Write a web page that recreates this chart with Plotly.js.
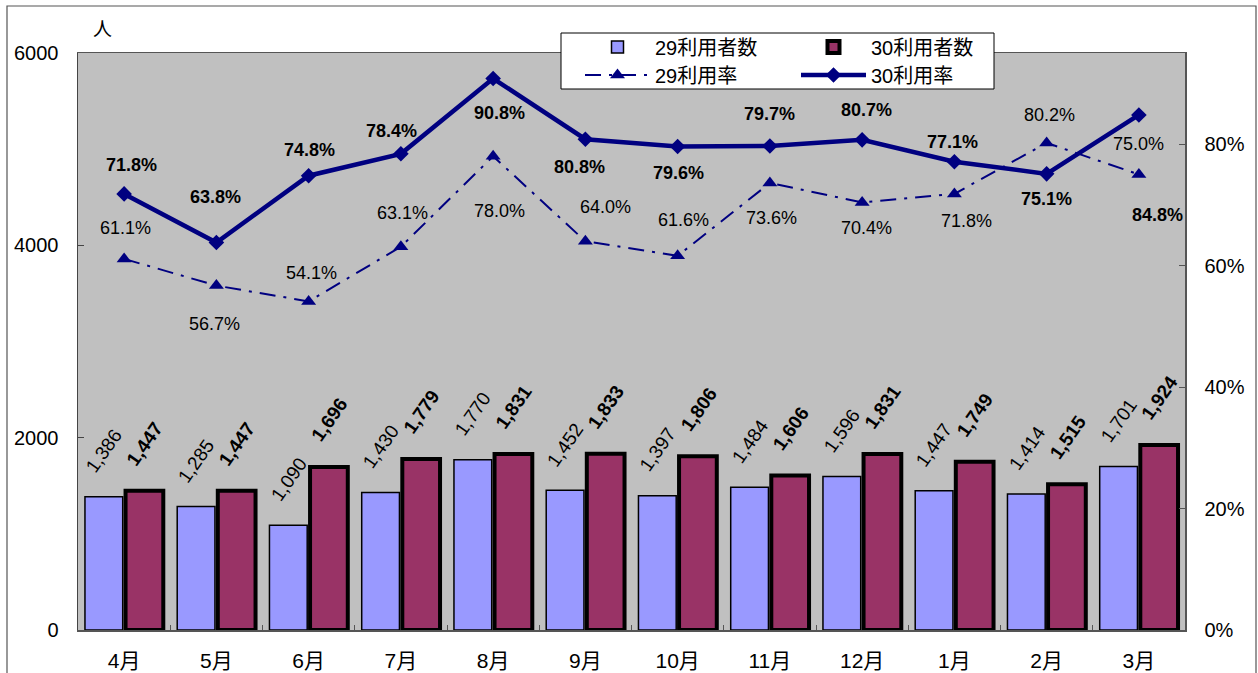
<!DOCTYPE html>
<html>
<head>
<meta charset="utf-8">
<script src="https://cdn.plot.ly/plotly-3.0.1.min.js"></script>
<style>
  html, body { margin: 0; padding: 0; background: #fff; }
  #chart { width: 1258px; height: 673px; }
</style>
</head>
<body>
<div id="chart"></div>
<script>
// ---- data ----
const months = ['4月','5月','6月','7月','8月','9月','10月','11月','12月','1月','2月','3月'];
const users29 = [1386, 1285, 1090, 1430, 1770, 1452, 1397, 1484, 1596, 1447, 1414, 1701];
const users30 = [1447, 1447, 1696, 1779, 1831, 1833, 1806, 1606, 1831, 1749, 1515, 1924];
const rate29 = [0.611, 0.567, 0.541, 0.631, 0.780, 0.640, 0.616, 0.736, 0.704, 0.718, 0.802, 0.750];
const rate30 = [0.718, 0.638, 0.748, 0.784, 0.908, 0.808, 0.796, 0.797, 0.807, 0.771, 0.751, 0.848];
const leftTicks = [0, 2000, 4000, 6000];
const rightTicks = [0, 0.2, 0.4, 0.6, 0.8];
const rightTickText = ['0%', '20%', '40%', '60%', '80%'];

// ---- style: label offsets in px [dx, dy(down)] ----
const off30 = [[7,-29],[-1,-46],[1,-26],[-9,-23],[6,34],[-6,28],[1,26],[0,-32],[4,-30],[-2,-20],[0,25],[19,100]];
const off29 = [[1,-31],[-2,38],[3,-28],[2,-34],[6,55],[20,-34],[6,-36],[2,35],[4,26],[12,27],[3,-28],[0,-30]];

const FONT = 'Liberation Sans, Arial, Noto Sans CJK JP, sans-serif';
const NAVY = '#000080';

const traces = [
  { type: 'bar', name: '29利用者数', x: months, y: users29, yaxis: 'y',
    marker: { color: '#9999ff', line: { color: '#000', width: 1.5 } },
    legend: 'legend', hoverinfo: 'skip' },
  { type: 'bar', name: '30利用者数', x: months, y: users30, yaxis: 'y',
    marker: { color: '#993366', line: { color: '#000', width: 4 } },
    legend: 'legend', hoverinfo: 'skip' },
  { type: 'scatter', mode: 'lines+markers', name: '29利用率', x: months, y: rate29, yaxis: 'y2',
    line: { color: NAVY, width: 2, dash: '16px,8px,3px,8px' },
    marker: { symbol: 'triangle-up', size: 13, color: NAVY },
    legend: 'legend2', cliponaxis: false, hoverinfo: 'skip' },
  { type: 'scatter', mode: 'lines+markers', name: '30利用率', x: months, y: rate30, yaxis: 'y2',
    line: { color: NAVY, width: 4.5 },
    marker: { symbol: 'diamond', size: 12, color: NAVY },
    legend: 'legend2', cliponaxis: false, hoverinfo: 'skip' }
];

const annotations = [];
const fmtInt = v => v.toLocaleString('en-US');
months.forEach((m, i) => {
  annotations.push({ x: m, y: users29[i], xref: 'x', yref: 'y', text: fmtInt(users29[i]),
    showarrow: false, textangle: -55, xanchor: 'center', yanchor: 'middle', xshift: -20, yshift: 46,
    font: { family: FONT, size: 19, color: '#000' } });
  annotations.push({ x: m, y: users30[i], xref: 'x', yref: 'y', text: '<b>' + fmtInt(users30[i]) + '</b>',
    showarrow: false, textangle: -55, xanchor: 'center', yanchor: 'middle', xshift: 21, yshift: 47,
    font: { family: FONT, size: 19, color: '#000' } });
  annotations.push({ x: m, y: rate29[i], xref: 'x', yref: 'y2', text: (rate29[i]*100).toFixed(1) + '%',
    showarrow: false, xanchor: 'center', yanchor: 'middle', xshift: off29[i][0], yshift: -off29[i][1],
    font: { family: FONT, size: 18, color: '#000' } });
  annotations.push({ x: m, y: rate30[i], xref: 'x', yref: 'y2', text: '<b>' + (rate30[i]*100).toFixed(1) + '%</b>',
    showarrow: false, xanchor: 'center', yanchor: 'middle', xshift: off30[i][0], yshift: -off30[i][1],
    font: { family: FONT, size: 18, color: '#000' } });
});
annotations.push({ x: 0.022, y: 1.04, xref: 'paper', yref: 'paper', text: '人', showarrow: false,
  xanchor: 'center', yanchor: 'middle', font: { family: FONT, size: 19, color: '#000' } });

// paper coordinate helpers (plot area: x 78..1185, y 53..630)
const px = X => (X - 78) / 1107;
const py = Y => (630 - Y) / 577;

const layout = {
  width: 1258, height: 673,
  margin: { l: 78, r: 73, t: 53, b: 43, pad: 0 },
  paper_bgcolor: '#ffffff',
  plot_bgcolor: '#c0c0c0',
  font: { family: FONT, size: 19, color: '#000' },
  barmode: 'group', bargap: 0.12, bargroupgap: 0.07,
  showlegend: true,
  xaxis: { type: 'category', range: [-0.5, 11.5], autorange: false, showgrid: false, showline: true,
    linecolor: '#555', linewidth: 1.5, mirror: true, ticks: 'inside', tickson: 'boundaries', ticklen: 5,
    tickcolor: '#555', ticklabelstandoff: 11, tickfont: { size: 21 }, fixedrange: true },
  yaxis: { range: [0, 6000], tickvals: leftTicks, ticktext: leftTicks.map(String), showgrid: false,
    zeroline: false, showline: true, linecolor: '#444', linewidth: 1.5, ticks: 'inside', ticklen: 6,
    tickcolor: '#444', ticklabelstandoff: 14, tickfont: { size: 20 } },
  yaxis2: { range: [0, 0.95], overlaying: 'y', side: 'right', tickvals: rightTicks, ticktext: rightTickText,
    showgrid: false, zeroline: false, showline: true, linecolor: '#555', linewidth: 1.5, ticks: 'inside',
    ticklen: 6, tickcolor: '#555', ticklabelstandoff: 14, tickfont: { size: 20 } },
  legend: { orientation: 'h', x: px(580), y: py(47), xanchor: 'left', yanchor: 'middle',
    bgcolor: 'rgba(0,0,0,0)', borderwidth: 0, itemwidth: 65, entrywidth: 136, entrywidthmode: 'pixels',
    font: { family: FONT, size: 20 }, itemclick: false, itemdoubleclick: false },
  legend2: { orientation: 'h', x: px(580), y: py(75), xanchor: 'left', yanchor: 'middle',
    bgcolor: 'rgba(0,0,0,0)', borderwidth: 0, itemwidth: 65, entrywidth: 136, entrywidthmode: 'pixels',
    font: { family: FONT, size: 20 }, itemclick: false, itemdoubleclick: false },
  shapes: [
    { type: 'rect', xref: 'paper', yref: 'paper', x0: px(561), x1: px(994), y0: py(89), y1: py(33),
      fillcolor: '#ffffff', line: { color: '#000', width: 1 }, layer: 'above' },
    { type: 'rect', xref: 'paper', yref: 'paper', x0: px(7), x1: px(1256), y0: py(690), y1: py(6),
      fillcolor: 'rgba(0,0,0,0)', line: { color: '#555', width: 1.2 }, layer: 'below' }
  ],
  annotations: annotations
};

Plotly.newPlot('chart', traces, layout, { displayModeBar: false, staticPlot: true });
</script>
</body>
</html>
